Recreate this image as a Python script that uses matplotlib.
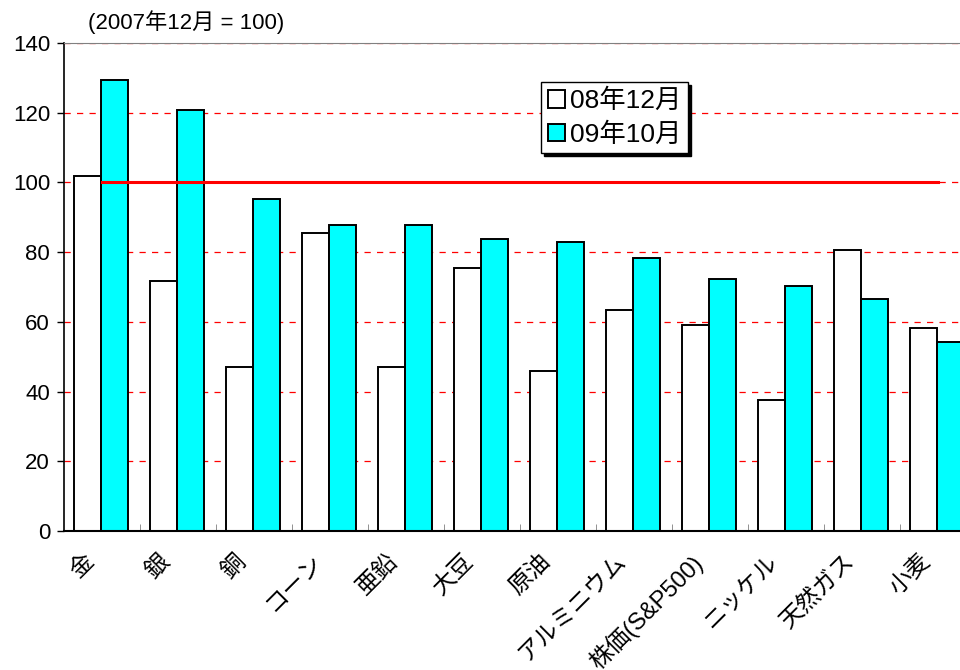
import numpy as np
import matplotlib
matplotlib.use("Agg")
import matplotlib.pyplot as plt
import matplotlib.transforms as mtransforms

plt.rcParams['font.family'] = ['Liberation Sans', 'Noto Sans CJK JP', 'DejaVu Sans']

categories = ["金", "銀", "銅", "コーン", "亜鉛", "大豆", "原油", "アルミニウム",
              "株価(S&P500)", "ニッケル", "天然ガス", "小麦"]
dec_2008 = [101.8, 71.7, 47.0, 85.5, 47.1, 75.4, 45.9, 63.4, 59.1, 37.6, 80.6, 58.2]
oct_2009 = [129.4, 120.8, 95.2, 87.8, 87.8, 83.8, 82.9, 78.3, 72.3, 70.3, 66.6, 54.2]
series_labels = ["08年12月", "09年10月"]
base_value = 100
title_text = "(2007年12月 = 100)"


def main():
    fig = plt.figure(figsize=(9.6, 6.7), dpi=100)
    # right edge runs past the figure, like the original crop
    ax = fig.add_axes([64 / 960, 139 / 670, 912 / 960, 488 / 670])

    x = np.arange(len(categories))
    w = 0.355
    ax.bar(x - w / 2 - 0.01, dec_2008, w, color="white", edgecolor="black",
           linewidth=1.4, label=series_labels[0], zorder=3)
    ax.bar(x + w / 2 - 0.01, oct_2009, w, color="#00ffff", edgecolor="black",
           linewidth=1.4, label=series_labels[1], zorder=3)

    # base line at 100
    ax.plot([x[0], x[-1]], [base_value, base_value], color="red", linewidth=2.2, zorder=4)

    ax.set_xlim(-0.5, len(categories) - 0.5)
    ax.set_ylim(0, 140)
    ax.set_yticks(range(0, 141, 20))
    for v in range(20, 141, 20):
        ax.axhline(v, color="red", linestyle=(0, (5, 5)), linewidth=0.9, zorder=1)

    ax.spines["top"].set_color("#808080")
    ax.spines["right"].set_visible(False)
    ax.spines["left"].set_linewidth(1.2)
    ax.spines["bottom"].set_linewidth(1.5)
    ax.spines["bottom"].set_zorder(5)

    ax.tick_params(axis="y", labelsize=16, length=5, width=1, direction="out", pad=5)
    ax.set_xticks(x)
    ax.set_xticklabels(categories, rotation=45, ha="right", va="top",
                       rotation_mode="anchor", fontsize=17)
    ax.tick_params(axis="x", length=0, pad=14)
    ax.set_xticks(x[:-1] + 0.5, minor=True)
    ax.tick_params(axis="x", which="minor", direction="in", length=5, color="#808080")
    shift = mtransforms.ScaledTranslation(-19 / 100, 0, fig.dpi_scale_trans)
    for lbl in ax.get_xticklabels():
        lbl.set_transform(lbl.get_transform() + shift)

    fig.text(88 / 960, 1 - 22 / 670, title_text, fontsize=16, va="center", ha="left")

    leg = ax.legend(loc="upper left", bbox_to_anchor=(477 / 912, 1 - 39 / 488),
                    fontsize=19, frameon=True, fancybox=False,
                    edgecolor="black", handlelength=0.65, handleheight=0.65,
                    handletextpad=0.2, borderpad=0.25, labelspacing=0.35,
                    borderaxespad=0,
                    shadow={"color": "black", "alpha": 1.0})
    leg.get_frame().set_linewidth(1.0)
    leg.set_zorder(10)

    fig.savefig("out.png", dpi=100)


if __name__ == "__main__":
    main()
